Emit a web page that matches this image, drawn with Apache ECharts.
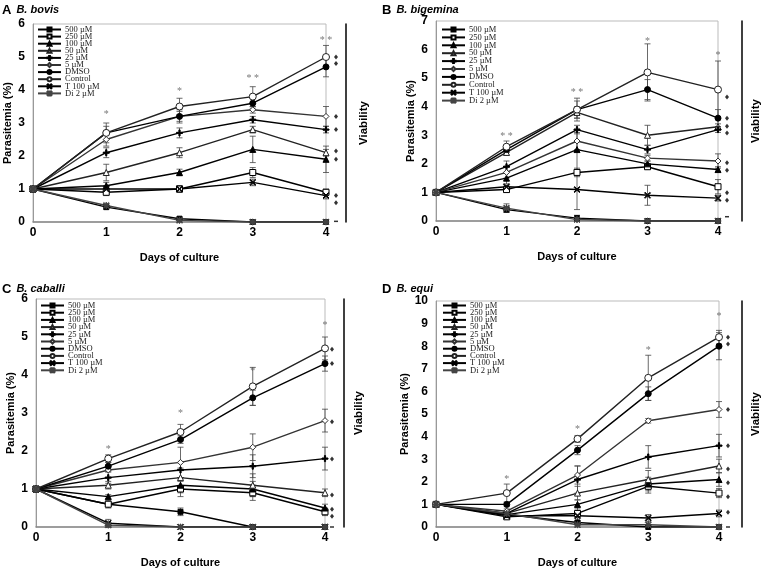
<!DOCTYPE html>
<html><head><meta charset="utf-8">
<script src="https://cdn.jsdelivr.net/npm/echarts@6/dist/echarts.min.js"></script>
<style>html,body{margin:0;padding:0;background:#fff}#c{width:763px;height:569px}</style>
</head><body><div id="c"></div>
<script>
const seriesNames = ['500 µM','250 µM','100 µM','50 µM','25 µM','5 µM','DMSO','Control','T 100 µM','Di 2 µM'];
const days = [0, 1, 2, 3, 4];

// Panel A: B. bovis (order = seriesNames)
const bovisVals = [
  [1, 0.45, 0.1, 0, 0],
  [1, 0.9, 1.0, 1.5, 0.9],
  [1, 1.1, 1.5, 2.2, 1.9],
  [1, 1.5, 2.1, 2.8, 2.1],
  [1, 2.1, 2.7, 3.1, 2.8],
  [1, 2.5, 3.2, 3.4, 3.2],
  [1, 2.7, 3.2, 3.6, 4.7],
  [1, 2.7, 3.5, 3.8, 5.0],
  [1, 1.0, 1.0, 1.2, 0.8],
  [1, 0.5, 0.05, 0, 0]
];
const bovisErr = [
  [0, 0.05, 0.05, 0, 0],
  [0, 0.1, 0.1, 0.15, 0.1],
  [0, 0.1, 0.1, 0.4, 0.4],
  [0, 0.25, 0.15, 0.1, 0.1],
  [0, 0.15, 0.15, 0.1, 0.1],
  [0, 0.2, 0.15, 0.1, 0.3],
  [0, 0.2, 0.2, 0.15, 0.3],
  [0, 0.3, 0.25, 0.3, 0.35],
  [0, 0.1, 0.1, 0.1, 0.1],
  [0, 0.05, 0.05, 0, 0]
];
// Panel B: B. bigemina
const bigeminaVals = [
  [1, 0.4, 0.1, 0, 0],
  [1, 1.1, 1.7, 1.9, 1.2],
  [1, 1.5, 2.5, 2.0, 1.8],
  [1, 2.4, 3.8, 3.0, 3.3],
  [1, 1.9, 3.2, 2.5, 3.2],
  [1, 1.7, 2.8, 2.2, 2.1],
  [1, 2.5, 3.9, 4.6, 3.6],
  [1, 2.6, 3.9, 5.2, 4.6],
  [1, 1.2, 1.1, 0.9, 0.8],
  [1, 0.45, 0.05, 0, 0]
];
const bigeminaErr = [
  [0, 0.1, 0.1, 0, 0],
  [0, 0.1, 0.15, 0.1, 0.25],
  [0, 0.2, 0.7, 0.1, 0.1],
  [0, 0.1, 0.2, 0.35, 0.1],
  [0, 0.2, 0.15, 0.15, 0.1],
  [0, 0.2, 0.3, 0.1, 0.25],
  [0, 0.1, 0.3, 0.35, 0.3],
  [0, 0.2, 0.4, 1.0, 1.0],
  [0, 0.05, 0.7, 0.35, 0.1],
  [0, 0.15, 0.05, 0, 0]
];
// Panel C: B. caballi
const caballiVals = [
  [1, 0.6, 0.4, 0, 0],
  [1, 0.6, 1.0, 0.9, 0.4],
  [1, 0.8, 1.1, 1.0, 0.5],
  [1, 1.1, 1.3, 1.1, 0.9],
  [1, 1.3, 1.5, 1.6, 1.8],
  [1, 1.5, 1.7, 2.1, 2.8],
  [1, 1.6, 2.3, 3.4, 4.3],
  [1, 1.8, 2.5, 3.7, 4.7],
  [1, 0.1, 0, 0, 0],
  [1, 0.05, 0, 0, 0]
];
const caballiErr = [
  [0, 0.05, 0.1, 0, 0],
  [0, 0.1, 0.2, 0.2, 0.1],
  [0, 0.05, 0.2, 0.2, 0.1],
  [0, 0.1, 0.25, 0.3, 0.1],
  [0, 0.15, 0.2, 0.3, 0.3],
  [0, 0.05, 0.4, 0.35, 0.3],
  [0, 0.1, 0.1, 0.2, 0.2],
  [0, 0.1, 0.2, 0.5, 0.3],
  [0, 0.1, 0, 0, 0],
  [0, 0.05, 0, 0, 0]
];
// Panel D: B. equi
const equiVals = [
  [1, 0.55, 0.2, 0, 0],
  [1, 0.45, 0.6, 1.8, 1.5],
  [1, 0.55, 1.0, 1.9, 2.1],
  [1, 0.6, 1.5, 2.1, 2.7],
  [1, 0.6, 2.1, 3.1, 3.6],
  [1, 0.7, 2.3, 4.7, 5.2],
  [1, 1.0, 3.4, 5.9, 8.0],
  [1, 1.5, 3.9, 6.6, 8.4],
  [1, 0.5, 0.5, 0.4, 0.6],
  [1, 0.6, 0.1, 0.1, 0]
];
const equiErr = [
  [0, 0.05, 0.05, 0, 0],
  [0, 0.1, 0.3, 0.3, 0.2],
  [0, 0.1, 0.2, 0.3, 0.3],
  [0, 0.1, 0.3, 0.4, 0.3],
  [0, 0.1, 0.6, 0.5, 0.5],
  [0, 0.1, 0.4, 0.1, 0.35],
  [0, 0.1, 0.2, 0.3, 0.6],
  [0, 0.4, 0.15, 1.0, 0.3],
  [0, 0.1, 0.1, 0.15, 0.15],
  [0, 0.05, 0.05, 0, 0]
];

// significance asterisks [day, height, label]
const bovisSig = [[1, 3.25, '*'], [2, 3.95, '*'], [3, 4.35, '* *'], [4, 5.5, '* *']];
const bigeminaSig = [[1, 2.97, '* *'], [2, 4.5, '* *'], [3, 6.3, '*'], [4, 5.8, '*']];
const caballiSig = [[1, 2.05, '*'], [2, 3.0, '*'], [3, 4.1, '*'], [4, 5.3, '*']];
const equiSig = [[1, 2.1, '*'], [2, 4.3, '*'], [3, 7.8, '*'], [4, 9.3, '*']];

// viability marks at day 4 (diamonds = viable, dash = not viable)
const bovisViable = [5.0, 4.8, 3.2, 2.8, 2.15, 1.9, 0.8, 0.58];
const bigeminaViable = [4.34, 3.6, 3.32, 3.08, 2.04, 1.78, 0.99, 0.73];
const caballiViable = [4.68, 4.3, 2.77, 1.79, 0.84, 0.47, 0.28];
const equiViable = [8.4, 8.1, 5.2, 3.6, 2.57, 1.96, 1.34, 0.65];
const bovisDead = [0.02];
const bigeminaDead = [0.15];
const caballiDead = [0];
const equiDead = [0];

const panelTitles = [['A', 'B. bovis'], ['B', 'B. bigemina'], ['C', 'B. caballi'], ['D', 'B. equi']];
const yMax = [6, 7, 6, 10];

const panels = [
  {vals: bovisVals, err: bovisErr, sig: bovisSig, via: bovisViable, dead: bovisDead},
  {vals: bigeminaVals, err: bigeminaErr, sig: bigeminaSig, via: bigeminaViable, dead: bigeminaDead},
  {vals: caballiVals, err: caballiErr, sig: caballiSig, via: caballiViable, dead: caballiDead},
  {vals: equiVals, err: equiErr, sig: equiSig, via: equiViable, dead: equiDead}
];

// layout
const grids = [
  {left: 33, top: 24, width: 293, height: 198},
  {left: 436, top: 21, width: 283, height: 200},
  {left: 36, top: 299, width: 289, height: 232},
  {left: 436, top: 301, width: 284, height: 229}
];
const vOffsets = [20, 24, 19, 23];
const vGaps = [18, 14, 15, 14];
const legendPos = [
  {left: 37, top: 25, gap: -1.9},
  {left: 441, top: 25, gap: -1.1},
  {left: 40, top: 301, gap: -1.8},
  {left: 442, top: 301, gap: -1.8}
];
const titlePos = [{left: 2, top: 1}, {left: 382, top: 1}, {left: 2, top: 280}, {left: 382, top: 280}];
const diaOffset = [10, 9, 7, 9];

const P_X = 'path://M1,0 L5,4 L9,0 L10,1 L6,5 L10,9 L9,10 L5,6 L1,10 L0,9 L4,5 L0,1 Z';
const P_PLUS = 'path://M4,0 H6 V4 H10 V6 H6 V10 H4 V6 H0 V4 H4 Z';
const P_AST = 'path://M4.4,0 H5.6 V4.4 H10 V5.6 H5.6 V10 H4.4 V5.6 H0 V4.4 H4.4 Z M1,0 L5,4 L9,0 L10,1 L6,5 L10,9 L9,10 L5,6 L1,10 L0,9 L4,5 L0,1 Z';
const styles = [
  {symbol: 'rect', size: 5, fill: '#000', line: '#000'},
  {symbol: 'rect', size: 6, fill: '#fff', line: '#000'},
  {symbol: 'triangle', size: 6, fill: '#000', line: '#000'},
  {symbol: 'triangle', size: 6, fill: '#fff', line: '#222'},
  {symbol: P_PLUS, size: 6, fill: '#000', line: '#000'},
  {symbol: 'diamond', size: 6, fill: '#fff', line: '#333'},
  {symbol: 'circle', size: 6, fill: '#000', line: '#000'},
  {symbol: 'circle', size: 7, fill: '#fff', line: '#222'},
  {symbol: P_X, size: 6, fill: '#222', line: '#000'},
  {symbol: P_AST, size: 6, fill: '#444', line: '#444'}
];

const SANS = 'Liberation Sans, Arial, sans-serif';
const SERIF = 'Liberation Serif, Times New Roman, serif';

const option = {
  animation: false,
  backgroundColor: '#fff',
  title: panelTitles.map((t, i) => ({
    text: '{l|' + t[0] + '} {s|' + t[1] + '}',
    left: titlePos[i].left, top: titlePos[i].top, padding: 0,
    textStyle: {rich: {
      l: {fontFamily: SANS, fontSize: 13, fontWeight: 'bold', color: '#000'},
      s: {fontFamily: SANS, fontSize: 11, fontWeight: 'bold', fontStyle: 'italic', color: '#000'}
    }}
  })),
  legend: legendPos.map((p, i) => ({
    data: seriesNames, orient: 'vertical', left: p.left, top: p.top, padding: 0,
    itemGap: p.gap, itemWidth: 23, itemHeight: 5,
    textStyle: {fontFamily: SERIF, fontSize: 8.5, lineHeight: 7, color: '#222', padding: [0, 0, 0, -1]},
    selectedMode: false
  })),
  grid: grids.map(g => Object.assign({show: true, borderColor: '#bbb', borderWidth: 1, backgroundColor: 'transparent'}, g)),
  xAxis: grids.map((g, i) => ({
    gridIndex: i, type: 'value', min: 0, max: 4, interval: 1,
    name: 'Days of culture', nameLocation: 'middle', nameGap: 30,
    nameTextStyle: {fontFamily: SANS, fontSize: 11, fontWeight: 'bold', color: '#000'},
    axisLine: {show: true, lineStyle: {color: '#888', width: 1.5}},
    axisTick: {show: false}, splitLine: {show: false},
    axisLabel: {fontFamily: SANS, fontSize: 12, fontWeight: 'bold', color: '#000', margin: 5}
  })),
  yAxis: [].concat(...grids.map((g, i) => [
    {
      gridIndex: i, type: 'value', min: 0, max: yMax[i], interval: 1, position: 'left',
      name: 'Parasitemia (%)', nameLocation: 'middle', nameGap: 20,
      nameTextStyle: {fontFamily: SANS, fontSize: 11, fontWeight: 'bold', color: '#000'},
      axisLine: {show: true, lineStyle: {color: '#999', width: 1}},
      axisTick: {show: false}, splitLine: {show: false},
      axisLabel: {fontFamily: SANS, fontSize: 12, fontWeight: 'bold', color: '#000', margin: 8}
    },
    {
      gridIndex: i, type: 'value', min: 0, max: 1, position: 'right', offset: vOffsets[i],
      name: 'Viability', nameLocation: 'middle', nameGap: vGaps[i], nameRotate: 90,
      nameTextStyle: {fontFamily: SANS, fontSize: 11.5, fontWeight: 'bold', color: '#000', verticalAlign: 'middle'},
      axisLine: {show: true, lineStyle: {color: '#000', width: 1.5}},
      axisTick: {show: false}, axisLabel: {show: false}, splitLine: {show: false}
    }
  ])),
  series: []
};

panels.forEach((p, gi) => {
  // error bars
  const ed = [];
  p.vals.forEach((arr, si) => arr.forEach((v, di) => {
    if (p.err[si][di] > 0) ed.push([days[di], v, p.err[si][di]]);
  }));
  option.series.push({
    type: 'custom', xAxisIndex: gi, yAxisIndex: gi * 2, data: ed, z: 1, silent: true,
    encode: {x: 0, y: 1},
    renderItem: function (params, api) {
      const x = api.value(0), y = api.value(1), e = api.value(2);
      const t = api.coord([x, y + e]), b = api.coord([x, Math.max(0, y - e)]);
      const w = 3, st = {stroke: '#444', lineWidth: 0.8};
      return {type: 'group', children: [
        {type: 'line', shape: {x1: t[0], y1: t[1], x2: b[0], y2: b[1]}, style: st},
        {type: 'line', shape: {x1: t[0] - w, y1: t[1], x2: t[0] + w, y2: t[1]}, style: st},
        {type: 'line', shape: {x1: b[0] - w, y1: b[1], x2: b[0] + w, y2: b[1]}, style: st}
      ]};
    }
  });
  // lines
  p.vals.forEach((arr, si) => {
    const s = styles[si];
    option.series.push({
      name: seriesNames[si], type: 'line', xAxisIndex: gi, yAxisIndex: gi * 2,
      data: arr.map((v, di) => [days[di], v]), z: 3,
      symbol: s.symbol, symbolSize: s.size, showAllSymbol: true,
      lineStyle: {color: s.line, width: 1.4},
      itemStyle: {color: s.fill, borderColor: s.line, borderWidth: 1}
    });
  });
  // significance
  option.series.push({
    type: 'scatter', xAxisIndex: gi, yAxisIndex: gi * 2, data: p.sig, symbolSize: 0, z: 4, silent: true,
    label: {show: true, position: 'inside', formatter: d => d.data[2], fontFamily: SERIF, fontSize: 10, color: '#555'}
  });
  // viability diamonds
  option.series.push({
    type: 'scatter', xAxisIndex: gi, yAxisIndex: gi * 2, data: p.via.map(v => [4, v]), z: 4, silent: true,
    symbol: 'diamond', symbolSize: [4, 5], symbolOffset: [diaOffset[gi], 0], itemStyle: {color: '#000'}
  });
  option.series.push({
    type: 'scatter', xAxisIndex: gi, yAxisIndex: gi * 2, data: p.dead.map(v => [4, v]), z: 4, silent: true,
    symbol: 'rect', symbolSize: [4, 1.5], symbolOffset: [diaOffset[gi], 0], itemStyle: {color: '#000'}
  });
});

const chart = echarts.init(document.getElementById('c'), null, {renderer: 'canvas'});
chart.setOption(option);
</script>
</body></html>
